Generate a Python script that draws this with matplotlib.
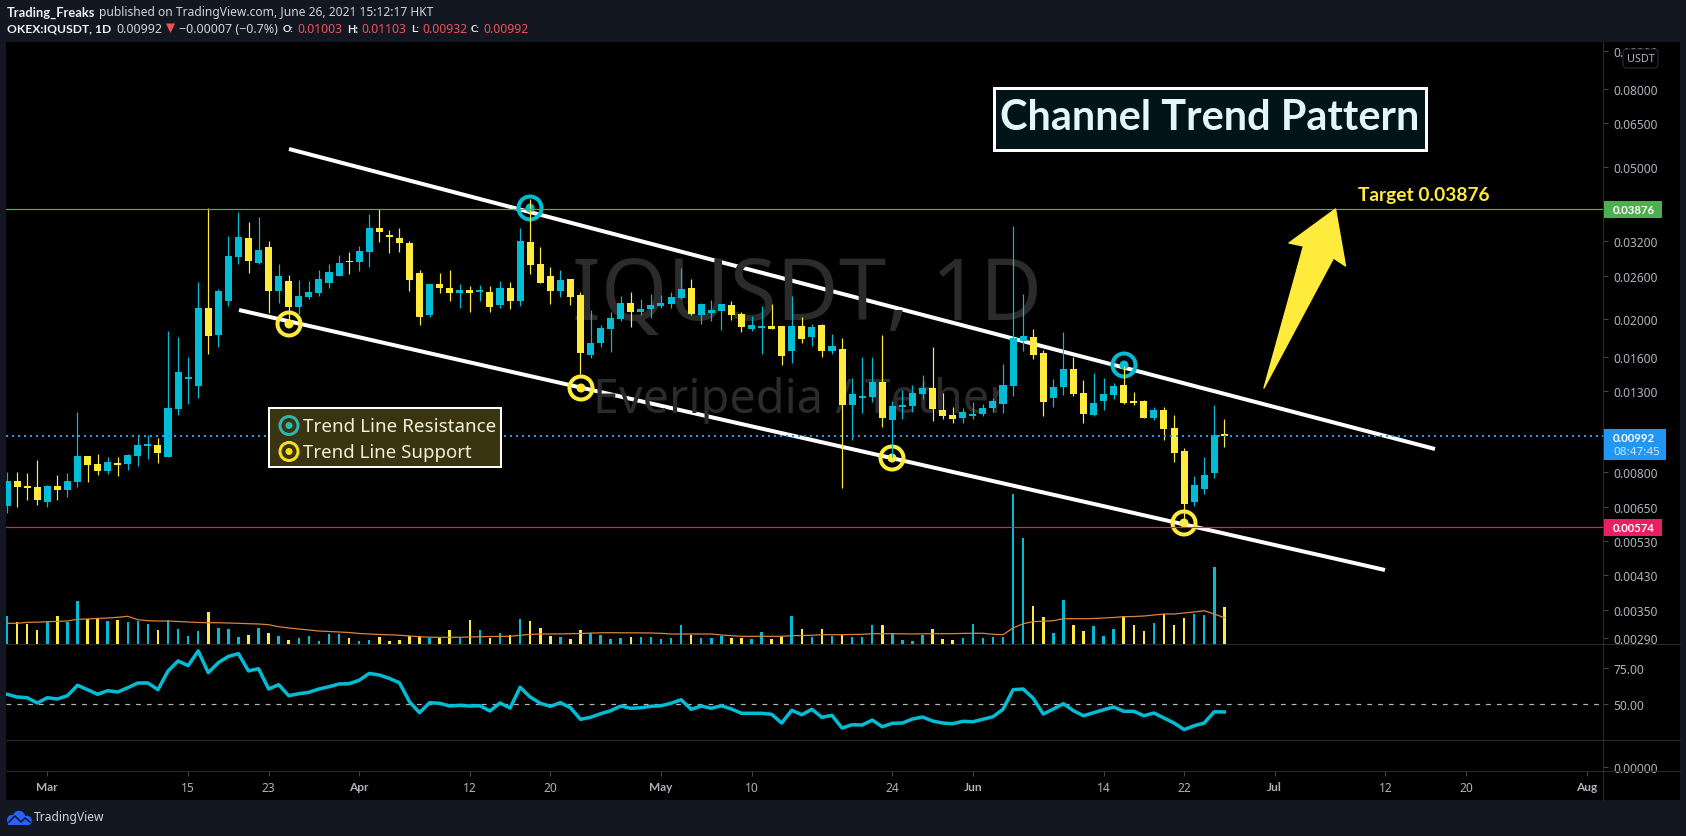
import matplotlib
matplotlib.use("Agg")
import matplotlib.pyplot as plt
import matplotlib.dates as mdates
from matplotlib.patches import Rectangle, Circle, Polygon, FancyBboxPatch
from matplotlib.ticker import NullLocator
import numpy as np
import pandas as pd

plt.rcParams['font.family'] = ['Noto Sans', 'DejaVu Sans']
BOLD_FAMILY = ['Lato', 'DejaVu Sans']

# ---------- data (prices in units of 0.00001 USDT) ----------
first_day = '2021-02-25'
open_ = [652,758,736,731,668,736,718,753,881,840,805,845,840,881,935,941,876,1168,1399,1341,
 2143,1822,2235,2910,3262,2807,3091,2373,2520,2155,2289,2345,2490,2597,2841,2824,2999,3464,3322,3262,
 3166,2644,2054,2475,2416,2345,2387,2359,2359,2182,2416,2235,3185,2791,2597,2373,2550,2317,1616,1736,
 1889,2006,2208,2092,2130,2168,2195,2275,2416,2054,2079,2104,2182,2067,1889,1900,1923,1923,1655,1923,
 1800,1935,1655,1675,1197,1248,1255,1374,1093,1182,1189,1278,1325,1161,1127,1107,1120,1134,1175,1204,
 1341,1757,1800,1635,1248,1333,1485,1286,1127,1226,1271,1349,1226,1226,1107,1161,1042,908,668,722,
 795,1003]
high = [800,800,795,860,740,786,795,1147,881,891,876,876,891,999,999,981,1866,1800,1596,2505,
 3906,2402,3302,3814,3591,3701,3204,2791,2612,2535,2520,2692,2791,2946,2999,3109,3768,3883,3423,3464,
 3204,2692,2475,2644,2692,2475,2445,2460,2445,2520,2505,3464,4123,3091,2741,2692,2550,2359,2117,1935,
 2092,2303,2359,2262,2331,2317,2359,2724,2550,2208,2248,2195,2235,2092,2042,2168,2195,1923,2303,2030,
 1946,1946,1833,1789,1407,1596,1596,1822,1226,1309,1349,1433,1695,1286,1182,1175,1218,1204,1248,1531,
 3506,2331,1889,1665,1399,1855,1596,1390,1450,1407,1366,1512,1294,1233,1182,1182,1127,924,781,876,
 1197,1103]
low = [625,648,676,656,648,676,689,731,753,786,791,781,810,829,865,845,876,1127,1204,1248,
 1625,1695,2168,2791,2644,2791,2079,2208,2006,2067,2262,2303,2416,2597,2628,2676,2741,3185,2981,2999,
 2373,1935,2030,2345,2235,2143,2092,2235,2092,2143,2130,2168,2628,2490,2195,2289,2182,1441,1587,1695,
 1645,1982,1912,2054,2017,2143,2143,2262,2054,1946,1982,1878,1994,1855,1866,1625,1889,1521,1540,1736,
 1705,1596,1625,727,970,1140,1218,1048,876,1100,1147,1240,1087,1100,1074,1074,1100,1120,1147,1140,
 1263,1655,1577,1120,1182,1271,1263,1074,1120,1161,1240,1204,1197,1107,1094,970,850,574,652,701,
 772,932]
close = [758,731,727,676,736,718,758,881,834,805,850,834,886,941,947,897,1175,1459,1416,2143,
 1811,2373,2928,3282,2841,3035,2373,2597,2155,2303,2359,2550,2660,2807,2824,3017,3464,3382,3282,3166,
 2535,2030,2475,2416,2345,2387,2345,2387,2155,2416,2235,3204,2774,2490,2373,2535,2289,1635,1736,1900,
 2018,2208,2092,2130,2182,2208,2289,2402,2067,2195,2117,2195,2054,1912,1935,1923,1889,1606,1923,1779,
 1912,1655,1705,1197,1278,1263,1374,1107,1189,1197,1286,1325,1168,1120,1100,1147,1134,1175,1226,1349,
 1789,1811,1616,1218,1333,1485,1278,1134,1211,1278,1341,1211,1211,1107,1161,1036,897,660,740,786,
 999,992]
volume = [28,22,20,14,23,28,22,43,25,25,23,24,22,23,20,14,24,15,8,13,
 32,16,15,7,9,16,11,8,4,6,8,3,10,10,6,3,4,7,3,4,
 8,8,6,6,14,6,24,14,6,11,9,25,23,16,8,7,5,14,11,9,
 5,6,7,7,7,5,6,19,9,6,6,8,6,6,5,12,5,7,28,15,
 7,15,8,9,7,7,19,19,11,4,3,9,15,5,4,6,20,6,7,7,
 150,106,38,27,11,44,19,13,18,8,15,28,19,13,21,30,19,26,30,29,77,37]
volume_ma = [20.7,20.7,21.7,21.8,22.3,22.6,23,24.7,25,25.6,26,26.7,27.7,24.3,23.3,23,23,22.5,22,21.5,
 21.3,21.3,21,20.7,20.3,20,19.3,17.3,16,15,14,13,12.5,12,11.5,10.5,10,9.5,9.2,8.8,
 8,7.3,6.8,6.7,6.7,6.7,7,7.3,7.5,7.6,7.7,8.7,9.7,9.9,10,10.1,10.3,10.5,10.9,11.2,
 11.3,11.2,11.2,11.1,11,10.7,10,10,10,10,10,9,8.3,7.7,7.7,7.7,7.7,7.7,8.3,8.5,
 8.7,9.3,9.3,9.3,9.5,9.7,10.3,10.3,10.3,10.2,10,10.2,10.3,10.3,10.3,10.6,10.7,10.7,9.7,9.3,
 16,20.3,22.3,22.8,23.3,25.3,25.3,25.3,25.5,26,26.5,27.3,27.5,28,29,30,30,31,32,33.3,30,26.3]
rsi = [56.8,54.9,54.4,50.7,54.4,53.5,55.8,63.1,60.0,56.8,59.3,58.4,61.4,64.7,64.7,60.0,73.1,80.1,76.8,87.1,
 71.9,78.9,83.3,85.2,73.1,74.7,60.5,63.5,55.8,57.2,58.2,60.5,62.1,64.0,64.2,66.6,71.4,70.3,67.9,64.9,
 51.6,43.9,50.9,50.5,48.6,49.1,48.6,48.8,45.1,50.7,47.2,61.7,54.9,50.5,48.4,50.9,47.4,39.3,40.7,43.2,
 45.3,48.6,47.0,47.4,48.4,48.8,50.5,53.0,46.3,48.6,47.0,48.8,46.5,43.5,43.5,43.5,42.8,36.7,45.6,42.5,
 46.3,40.7,42.1,33.2,35.5,35.3,38.8,34.1,36.5,36.7,39.5,40.9,38.1,36.7,36.2,37.9,37.6,39.3,41.1,46.3,
 60.0,60.5,54.0,43.0,46.5,50.2,45.3,41.8,43.9,46.0,47.9,44.9,44.9,41.8,43.7,40.2,36.7,32.1,34.8,36.7,44.6,44.4]

price_ticks = [0.1,0.08,0.065,0.05,0.04,0.032,0.026,0.02,0.016,0.013,0.008,0.0065,0.0053,0.0043,0.0035,0.00295]
price_tick_labels = ['0.10000','0.08000','0.06500','0.05000','0.04000','0.03200','0.02600','0.02000','0.01600',
                     '0.01300','0.00800','0.00650','0.00530','0.00430','0.00350','0.00290']
date_ticks = ['2021-03-01','2021-03-15','2021-03-23','2021-04-01','2021-04-12','2021-04-20','2021-05-01',
              '2021-05-10','2021-05-24','2021-06-01','2021-06-14','2021-06-22','2021-07-01','2021-07-12',
              '2021-07-20','2021-08-01']
date_tick_labels = ['Mar','15','23','Apr','12','20','May','10','24','Jun','14','22','Jul','12','20','Aug']
rsi_ticks = [75, 50]
rsi_tick_labels = ['75.00', '50.00']
target_price = 0.03876
stop_price = 0.00574
last_price = 0.00992

# ---------- style ----------
W, H = 1686, 837
BG = '#131722'
UP = '#00BCD4'
DOWN = '#FFEB3B'
GRID = '#2a2a2e'
TICK = '#b0b3bb'
PX = 0.72  # points per pixel at dpi 100

fig = plt.figure(figsize=(W / 100, H / 100), dpi=100, facecolor=BG)
L_, R_, T_, B_ = 6, 1603, 43, 645


def pane(top, bottom, z):
    a = fig.add_axes([L_ / W, 1 - bottom / H, (R_ - L_) / W, (bottom - top) / H], zorder=z)
    a.patch.set_visible(False)
    for s in a.spines.values():
        s.set_visible(False)
    return a


def px_layer(z):
    a = fig.add_axes([0, 0, 1, 1], zorder=z)
    a.set_xlim(0, W)
    a.set_ylim(H, 0)
    a.axis('off')
    a.patch.set_visible(False)
    return a


bg = px_layer(0)
top = px_layer(6)
fig.canvas.draw()
rend = fig.canvas.get_renderer()


def T(ax, x, y, s, w=None, size=12, color='white', ha='left', va='center', weight='normal', **kw):
    if weight == 'bold':
        kw['family'] = BOLD_FAMILY
    t = ax.text(x, y, s, fontsize=size, color=color, ha=ha, va=va, fontweight=weight, **kw)
    if w is not None:
        t.set_fontsize(size * w / t.get_window_extent(rend).width)
    return t


# black chart area
bg.add_patch(Rectangle((6, 43), 1674, 758, fc='black', ec='none'))

# watermark
T(bg, 807.5, 298, 'IQUSDT, 1D', w=470, size=70, color='#2b2b2b', ha='center')
T(bg, 801, 401, 'Everipedia / Tether', w=415, size=34, color='#2b2b2b', ha='center')

# trend lines and pivots (drawn below the candles)
bg.plot([289, 1435], [150, 450], color='white', lw=4 * PX, solid_capstyle='butt')
bg.plot([239, 1385], [311, 571], color='white', lw=4 * PX, solid_capstyle='butt')


def ring(ax, x, y, col, r=11.5, lw=4, dot=4.5, z=3):
    ax.add_patch(Circle((x, y), r, fc='none', ec=col, lw=lw * PX, zorder=z))
    ax.add_patch(Circle((x, y), dot, fc=col, ec='none', zorder=z))


for cx, cy in [(530, 209), (1124, 366)]:
    ring(bg, cx, cy, UP)
for cx, cy in [(289, 325), (581, 389), (892, 459), (1184, 524)]:
    ring(bg, cx, cy, DOWN)

# ---------- series ----------
dates = pd.date_range(first_day, periods=len(close), freq='D')
x = mdates.date2num(dates)
o, h, l, c = (np.array(a, dtype=float) / 1e5 for a in (open_, high, low, close))
up = c >= o
colors = np.where(up, UP, DOWN)
x0 = mdates.date2num(pd.Timestamp('2021-03-01'))
xlim = (x0 - 4.105, x0 + 154.64)

# volume overlay
axv = pane(T_, B_, 1)
axv.set_xlim(xlim)
axv.set_ylim(0, B_ - T_)
axv.axis('off')
axv.bar(x, volume, width=0.25, color=colors, linewidth=0)
axv.plot(x, volume_ma, color='#d9843c', lw=0.9, zorder=3)

# price pane
ax = pane(T_, B_, 2)
ax.set_yscale('log')
ax.set_xlim(xlim)
ax.set_ylim(0.002848, 0.10587)
vl = ax.vlines(x, l, h, colors=colors, lw=1.2 * PX, zorder=3)
vl.set_snap(True)
ax.bar(x, np.abs(c - o), bottom=np.minimum(o, c), width=0.7, color=colors, linewidth=0, zorder=4)
ax.axhline(target_price, color='#4CAF50', lw=1.2 * PX, zorder=5)
ax.axhline(stop_price, color='#E91E63', lw=1.2 * PX, zorder=5)
ax.axhline(last_price, color='#2196F3', lw=2 * PX, ls=(0, (1, 2)), zorder=5)
ax.yaxis.tick_right()
ax.set_yticks(price_ticks)
ax.set_yticklabels(price_tick_labels)
ax.yaxis.set_minor_locator(NullLocator())
ax.xaxis.set_visible(False)
ax.tick_params(axis='y', length=5 * PX, width=0.8, color='#40444e', labelcolor=TICK, labelsize=8.6, pad=3.8)

# RSI pane
axr = pane(B_, 741, 2)
axr.set_xlim(xlim)
axr.set_ylim(24.83, 91.96)
axr.plot(x, rsi, color=UP, lw=3.5 * PX, solid_joinstyle='round')
axr.axhline(50, color='#b2b5be', lw=1.2 * PX, ls=(0, (4, 5)), zorder=1)
axr.yaxis.tick_right()
axr.set_yticks(rsi_ticks)
axr.set_yticklabels(rsi_tick_labels)
axr.xaxis.set_visible(False)
axr.tick_params(axis='y', length=5 * PX, width=0.8, color='#40444e', labelcolor=TICK, labelsize=8.6, pad=3.8)

# lowest (empty) pane carries the date axis
ax3 = pane(741, 772, 2)
ax3.set_xlim(xlim)
ax3.set_ylim(-4, 27)
ax3.yaxis.tick_right()
ax3.set_yticks([0])
ax3.set_yticklabels(['0.00000'])
ax3.set_xticks(mdates.date2num(pd.to_datetime(date_ticks)))
ax3.set_xticklabels(date_tick_labels)
ax3.tick_params(axis='y', length=5 * PX, width=0.8, color='#40444e', labelcolor=TICK, labelsize=8.6, pad=3.8)
ax3.tick_params(axis='x', length=5 * PX, width=0.8, color='#40444e', labelcolor=TICK, labelsize=8.6, pad=3.5)
for lab in ax3.get_xticklabels():
    if lab.get_text().isalpha():
        lab.set_fontweight('bold')
        lab.set_family(BOLD_FAMILY)

# pane separators and axis line
for yy in (645, 741, 772):
    top.plot([6, 1680], [yy, yy], color=GRID, lw=1 * PX)
top.plot([1603, 1603], [43, 801], color=GRID, lw=1 * PX)

# price labels
for y0, y1, col, x1 in [(202, 219, '#4CAF50', 1662), (520, 537, '#E91E63', 1662), (430, 461, '#2196F3', 1666)]:
    top.add_patch(Rectangle((1603, y0), x1 - 1603, y1 - y0, fc=col, ec='none'))
T(top, 1613, 210.5, '0.03876', w=42, size=8.5, weight='bold')
T(top, 1613, 528.5, '0.00574', w=42, size=8.5, weight='bold')
T(top, 1613, 438, '0.00992', w=42, size=8.5, weight='bold')
T(top, 1613, 452.5, '08:47:45', w=46.5, size=8.5, color='#c9e6fc')

# USDT badge
top.add_patch(FancyBboxPatch((1625, 52), 31, 15, boxstyle='round,pad=2,rounding_size=4',
                             fc='black', ec='#2e323c', lw=1 * PX))
T(top, 1640.5, 59.5, 'USDT', w=28, size=8, color=TICK, ha='center')

# title
top.add_patch(Rectangle((993.5, 88.5), 432, 62, fc='#02131a', ec='white', lw=3 * PX))
T(top, 1210, 118, 'Channel Trend Pattern', w=419, size=30, color='#e3f6fb', ha='center', weight='bold')

# target
T(top, 1358, 195, 'Target 0.03876', w=132, size=14, color=DOWN, weight='bold')
top.add_patch(Polygon([(1335.5, 210), (1289, 244), (1303.5, 247), (1264, 389), (1333.5, 259), (1345.5, 267)],
                      closed=True, fc=DOWN, ec=DOWN, lw=1, joinstyle='round'))

# legend box
top.add_patch(Rectangle((269, 409), 232, 59, fc='#3a3410', ec='white', lw=2 * PX))
ring(top, 289, 426.5, '#2bb8b0', r=9, lw=3, dot=3.5)
ring(top, 289, 452.5, '#f5e020', r=9, lw=3, dot=3.5)
T(top, 303, 427, 'Trend Line Resistance', w=193, size=14, color='#f2f0d8')
T(top, 303, 453, 'Trend Line Support', w=168.5, size=14, color='#f2f0d8')

# header
T(top, 6.7, 12.7, 'Trading_Freaks', w=88.3, size=9, weight='bold', color='#f0f1f4')
T(top, 99, 12.7, 'published on TradingView.com, June 26, 2021 15:12:17 HKT', w=334, size=9, color='#d1d4dc')
T(top, 6.7, 29.3, 'OKEX:IQUSDT, 1D', w=103.3, size=9, weight='bold', color='#f0f1f4')
T(top, 116, 29.3, '0.00992', w=46, size=9, color='#d1d4dc')
top.add_patch(Polygon([(166, 24.5), (175, 24.5), (170.5, 34)], closed=True, fc='#ef5350', ec='none'))
T(top, 179, 29.3, '\u22120.00007 (\u22120.7%)', w=99, size=9, color='#d1d4dc')
for lx, lab, lw_, vx, val in [(283, 'O:', 11, 297, '0.01003'), (347, 'H:', 11, 361, '0.01103'),
                              (411, 'L:', 8, 422, '0.00932'), (471, 'C:', 9, 483, '0.00992')]:
    T(top, lx, 29.3, lab, w=lw_, size=9, weight='bold', color='#f0f1f4')
    T(top, vx, 29.3, val, w=45, size=9, color='#ef5350')

# TradingView logo
LOGO = '#2962FF'
for cx, cy, r in [(12, 821, 5), (19, 818, 6.2), (27, 821.5, 4.8)]:
    top.add_patch(Circle((cx, cy), r, fc=LOGO, ec='none'))
top.add_patch(Rectangle((8, 820), 20, 6, fc=LOGO, ec='none'))
top.plot([9, 15, 21, 25, 30], [823, 817, 823, 819, 823], color=BG, lw=1.1)
T(top, 34, 818, 'TradingView', w=71, size=9, color='#d1d4dc')

fig.savefig('out.png', dpi=100, facecolor=BG)
